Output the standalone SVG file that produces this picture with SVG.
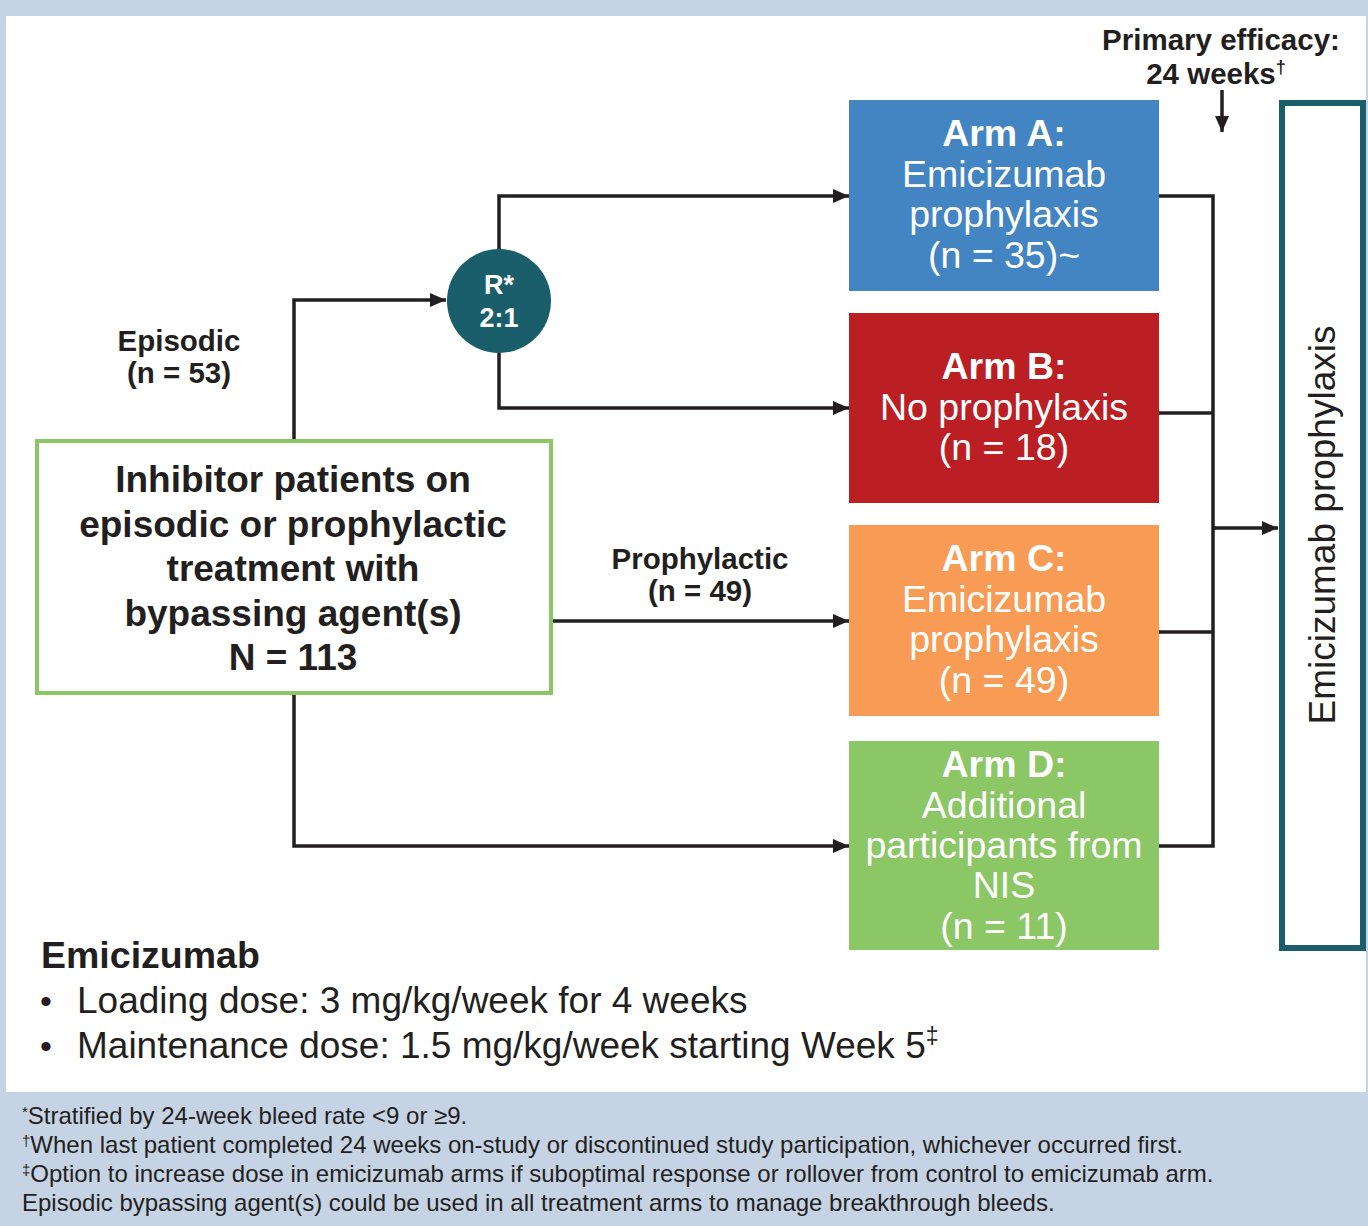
<svg xmlns="http://www.w3.org/2000/svg" width="1368" height="1226" viewBox="0 0 1368 1226">
<defs>
<marker id="ah" viewBox="0 0 16 14" refX="16" refY="7" markerWidth="16" markerHeight="14" markerUnits="userSpaceOnUse" orient="auto">
<path d="M0,0 L16,7 L0,14 Z" fill="#231f20"/>
</marker>
<style>
.t{font-family:"Liberation Sans",Arial,sans-serif;fill:#231f20}
.b{font-weight:bold}
.w{fill:#ffffff}
.c{text-anchor:middle}
.ln{fill:none;stroke:#231f20;stroke-width:3.5}
.arm{font-size:37.5px}
.lbl{font-size:29.5px}
.fn{font-size:24px}
</style>
</defs>
<rect x="0" y="0" width="1368" height="1226" fill="#c5d3e5"/>
<rect x="6" y="16" width="1360" height="1076" fill="#ffffff"/>

<g id="connectors">
<polyline class="ln" points="294,440 294,300 446,300" marker-end="url(#ah)"/>
<polyline class="ln" points="499,250 499,196 849,196" marker-end="url(#ah)"/>
<polyline class="ln" points="499,352 499,408 849,408" marker-end="url(#ah)"/>
<line class="ln" x1="552" y1="621" x2="849" y2="621" marker-end="url(#ah)"/>
<polyline class="ln" points="294,694 294,846 849,846" marker-end="url(#ah)"/>
<polyline class="ln" points="1159,196 1213,196 1213,846 1159,846"/>
<line class="ln" x1="1159" y1="413" x2="1213" y2="413"/>
<line class="ln" x1="1159" y1="632" x2="1213" y2="632"/>
<line class="ln" x1="1213" y1="528" x2="1278" y2="528" marker-end="url(#ah)"/>
<line class="ln" x1="1222" y1="90" x2="1222" y2="132" marker-end="url(#ah)"/>
</g>

<g id="label-episodic">
<text class="t b c lbl" x="179" y="351">Episodic</text>
<text class="t b c lbl" x="179" y="383">(n = 53)</text>
</g>
<g id="label-prophylactic">
<text class="t b c lbl" x="700" y="569">Prophylactic</text>
<text class="t b c lbl" x="700" y="601">(n = 49)</text>
</g>
<g id="label-primary">
<text class="t b c lbl" x="1221" y="50">Primary efficacy:</text>
<text class="t b c lbl" x="1216" y="84">24 weeks<tspan font-size="18" dy="-11">†</tspan></text>
</g>

<g id="node-inhibitor">
<rect x="37" y="441" width="514" height="252" fill="#ffffff" stroke="#8bc765" stroke-width="4"/>
<text class="t b c" x="293" y="492" font-size="37">Inhibitor patients on</text>
<text class="t b c" x="293" y="537" font-size="37">episodic or prophylactic</text>
<text class="t b c" x="293" y="581" font-size="37">treatment with</text>
<text class="t b c" x="293" y="626" font-size="37">bypassing agent(s)</text>
<text class="t b c" x="293" y="670" font-size="37">N = 113</text>
</g>

<g id="node-random">
<circle cx="499" cy="301" r="52" fill="#1b5e6b"/>
<text class="t b w c" x="499" y="294" font-size="27">R*</text>
<text class="t b w c" x="499" y="327" font-size="27">2:1</text>
</g>

<g id="node-armA">
<rect x="849" y="100" width="310" height="191" fill="#4285c2"/>
<text class="t b w c arm" x="1004" y="146">Arm A:</text>
<text class="t w c arm" x="1004" y="187">Emicizumab</text>
<text class="t w c arm" x="1004" y="227">prophylaxis</text>
<text class="t w c arm" x="1004" y="268">(n = 35)~</text>
</g>

<g id="node-armB">
<rect x="849" y="313" width="310" height="190" fill="#bb1f24"/>
<text class="t b w c arm" x="1004" y="379">Arm B:</text>
<text class="t w c arm" x="1004" y="420">No prophylaxis</text>
<text class="t w c arm" x="1004" y="460">(n = 18)</text>
</g>

<g id="node-armC">
<rect x="849" y="525" width="310" height="191" fill="#f79b55"/>
<text class="t b w c arm" x="1004" y="571">Arm C:</text>
<text class="t w c arm" x="1004" y="612">Emicizumab</text>
<text class="t w c arm" x="1004" y="652">prophylaxis</text>
<text class="t w c arm" x="1004" y="693">(n = 49)</text>
</g>

<g id="node-armD">
<rect x="849" y="741" width="310" height="209" fill="#8bc765"/>
<text class="t b w c arm" x="1004" y="777">Arm D:</text>
<text class="t w c arm" x="1004" y="818">Additional</text>
<text class="t w c arm" x="1004" y="858">participants from</text>
<text class="t w c arm" x="1004" y="898">NIS</text>
<text class="t w c arm" x="1004" y="939">(n = 11)</text>
</g>

<g id="node-emicizumab-prophylaxis">
<rect x="1282" y="103" width="81" height="845" fill="#ffffff" stroke="#1b5e6b" stroke-width="6"/>
<text class="t c" x="0" y="0" font-size="37" transform="translate(1335,525) rotate(-90)">Emicizumab prophylaxis</text>
</g>

<g id="dosing">
<text class="t b" x="41" y="968" font-size="37.5">Emicizumab</text>
<text class="t" x="40" y="1013" font-size="34">•</text>
<text class="t" x="77" y="1013" font-size="37">Loading dose: 3 mg/kg/week for 4 weeks</text>
<text class="t" x="40" y="1058" font-size="34">•</text>
<text class="t" x="77" y="1058" font-size="37">Maintenance dose: 1.5 mg/kg/week starting Week 5<tspan font-size="23" dy="-14">‡</tspan></text>
</g>

<g id="footnotes">
<text class="t fn" x="22" y="1124"><tspan font-size="15" dy="-7">*</tspan><tspan dy="7">Stratified by 24-week bleed rate &lt;9 or ≥9.</tspan></text>
<text class="t fn" x="22" y="1153"><tspan font-size="15" dy="-7">†</tspan><tspan dy="7">When last patient completed 24 weeks on-study or discontinued study participation, whichever occurred first.</tspan></text>
<text class="t fn" x="22" y="1182"><tspan font-size="15" dy="-7">‡</tspan><tspan dy="7">Option to increase dose in emicizumab arms if suboptimal response or rollover from control to emicizumab arm.</tspan></text>
<text class="t fn" x="22" y="1211">Episodic bypassing agent(s) could be used in all treatment arms to manage breakthrough bleeds.</text>
</g>
</svg>
